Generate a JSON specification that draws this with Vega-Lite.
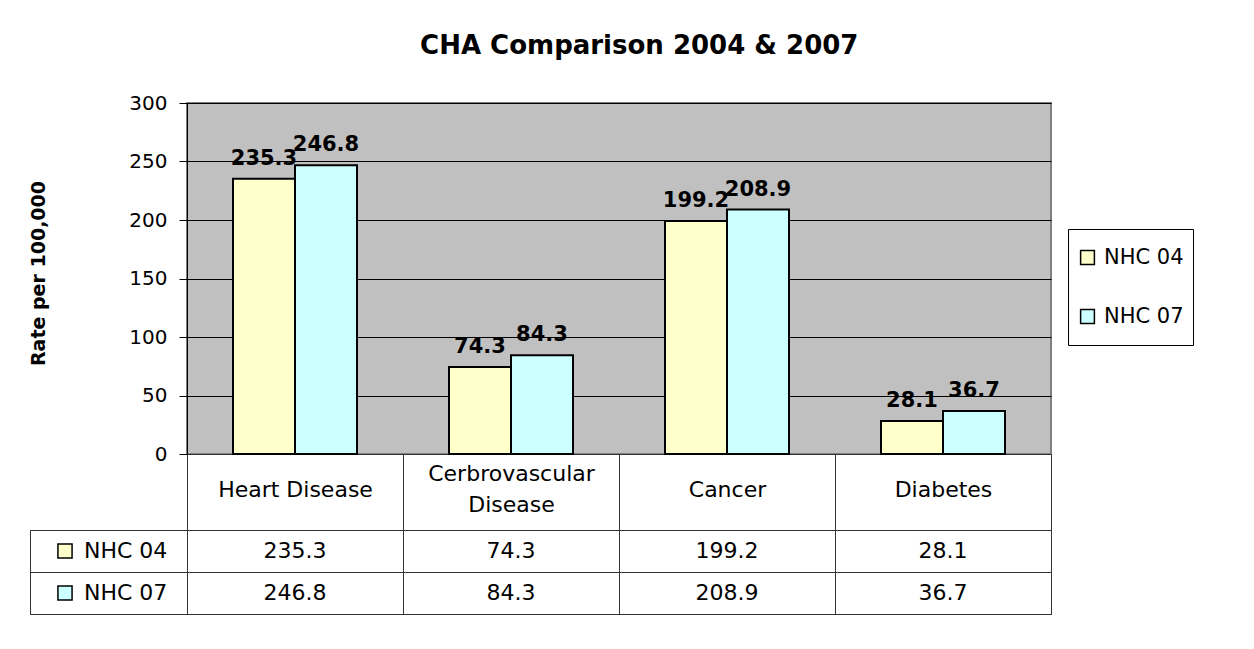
{
  "$schema": "https://vega.github.io/schema/vega-lite/v6.json",
  "background": "white",
  "padding": {"left": 27, "top": 33, "right": 5, "bottom": 5},
  "title": {"text": "CHA Comparison 2004 & 2007", "font": "DejaVu Sans", "fontSize": 26, "fontWeight": "bold", "color": "#000", "anchor": "middle", "offset": 33, "dx": 28},
  "datasets": {
    "rates": [
      {"category": "Heart Disease", "series": "NHC 04", "value": 235.3},
      {"category": "Heart Disease", "series": "NHC 07", "value": 246.8},
      {"category": "Cerbrovascular Disease", "series": "NHC 04", "value": 74.3},
      {"category": "Cerbrovascular Disease", "series": "NHC 07", "value": 84.3},
      {"category": "Cancer", "series": "NHC 04", "value": 199.2},
      {"category": "Cancer", "series": "NHC 07", "value": 208.9},
      {"category": "Diabetes", "series": "NHC 04", "value": 28.1},
      {"category": "Diabetes", "series": "NHC 07", "value": 36.7}
    ],
    "series": [
      {"series": "NHC 04"},
      {"series": "NHC 07"}
    ]
  },
  "columns": 2,
  "spacing": {"row": 76, "column": 0},
  "bounds": "flush",
  "align": "each",
  "resolve": {"scale": {"color": "independent"}, "legend": {"color": "independent"}},
  "concat": [
    {
      "width": 157,
      "height": 351,
      "view": {"stroke": null},
      "data": {"values": []},
      "mark": {"type": "point", "opacity": 0}
    },
    {
      "width": 864,
      "height": 351,
      "view": {"fill": "#C0C0C0", "stroke": "#808080", "strokeWidth": 2},
      "data": {"name": "rates"},
      "encoding": {
        "x": {
          "field": "category", "type": "nominal",
          "sort": ["Heart Disease", "Cerbrovascular Disease", "Cancer", "Diabetes"],
          "scale": {"paddingInner": 0, "paddingOuter": 0},
          "axis": {
            "title": null, "labelAngle": 0, "labelFont": "DejaVu Sans", "labelFontSize": 22, "labelColor": "#000",
            "labelBaseline": {"condition": {"test": "datum.value == 'Cerbrovascular Disease'", "value": "line-bottom"}, "value": "middle"},
            "labelLineHeight": 31, "labelPadding": -41,
            "labelExpr": "datum.value == 'Cerbrovascular Disease' ? ['Cerbrovascular', 'Disease'] : datum.label",
            "tickBand": "extent", "tickSize": 76, "tickColor": "#333", "tickWidth": 1,
            "domainColor": "#333", "domainWidth": 1
          }
        },
        "xOffset": {"field": "series", "type": "nominal", "sort": ["NHC 04", "NHC 07"], "scale": {"paddingInner": 0, "paddingOuter": 0.742}},
        "y": {
          "field": "value", "type": "quantitative",
          "scale": {"domain": [0, 300]},
          "axis": {
            "values": [0, 50, 100, 150, 200, 250, 300],
            "title": "Rate per 100,000", "titleFont": "DejaVu Sans", "titleFontSize": 19, "titleFontWeight": "bold", "titleColor": "#000",
            "titleAngle": -90, "titleX": -149, "titleY": 170, "titleAlign": "center", "titleBaseline": "middle",
            "labelFont": "DejaVu Sans", "labelFontSize": 20, "labelColor": "#000", "labelPadding": 12,
            "tickSize": 8, "tickColor": "#000", "domainColor": "#000", "domainWidth": 1,
            "grid": true, "gridColor": "#000", "gridWidth": 1
          }
        }
      },
      "layer": [
        {
          "mark": {"type": "bar", "stroke": "#000", "strokeWidth": 2},
          "encoding": {
            "color": {
              "field": "series", "type": "nominal",
              "scale": {"domain": ["NHC 04", "NHC 07"], "range": ["#FFFFCC", "#CCFFFF"]},
              "legend": {
                "orient": "none", "legendX": 881, "legendY": 126, "title": null,
                "symbolType": "square", "symbolSize": 190, "symbolStrokeColor": "#000", "symbolStrokeWidth": 1.5, "symbolOpacity": 1,
                "labelFont": "DejaVu Sans", "labelFontSize": 21, "labelColor": "#000", "labelOffset": 6,
                "strokeColor": "#000", "fillColor": "#fff", "padding": 9, "rowPadding": 20, "clipHeight": 39
              }
            }
          }
        },
        {
          "mark": {"type": "text", "baseline": "bottom", "dy": -10, "font": "DejaVu Sans", "fontSize": 21, "fontWeight": "bold", "color": "#000"},
          "encoding": {"text": {"field": "value", "type": "quantitative", "format": ".1f"}}
        }
      ]
    },
    {
      "width": 157,
      "height": 84,
      "view": {"stroke": "#333", "strokeWidth": 1},
      "data": {"name": "series"},
      "encoding": {
        "y": {
          "field": "series", "type": "nominal", "sort": ["NHC 04", "NHC 07"],
          "scale": {"type": "band", "paddingInner": 0, "paddingOuter": 0},
          "axis": {"title": null, "labels": false, "ticks": false, "domain": false, "grid": true, "tickBand": "extent", "gridColor": "#333", "gridWidth": 1}
        }
      },
      "layer": [
        {
          "mark": {"type": "point", "shape": "square", "filled": true, "size": 200, "stroke": "#000", "strokeWidth": 1.5, "opacity": 1, "xOffset": -43.5},
          "encoding": {
            "color": {"field": "series", "type": "nominal", "scale": {"domain": ["NHC 04", "NHC 07"], "range": ["#FFFFCC", "#CCFFFF"]}, "legend": null}
          }
        },
        {
          "mark": {"type": "text", "align": "left", "dx": -24.5, "font": "DejaVu Sans", "fontSize": 22, "color": "#000"},
          "encoding": {"text": {"field": "series"}}
        }
      ]
    },
    {
      "width": 864,
      "height": 84,
      "view": {"stroke": "#333", "strokeWidth": 1},
      "data": {"name": "rates"},
      "mark": {"type": "text", "font": "DejaVu Sans", "fontSize": 22, "color": "#000"},
      "encoding": {
        "x": {
          "field": "category", "type": "nominal",
          "sort": ["Heart Disease", "Cerbrovascular Disease", "Cancer", "Diabetes"],
          "scale": {"type": "band", "paddingInner": 0, "paddingOuter": 0},
          "axis": {"title": null, "labels": false, "ticks": false, "domain": false, "grid": true, "tickBand": "extent", "gridColor": "#333", "gridWidth": 1}
        },
        "y": {
          "field": "series", "type": "nominal", "sort": ["NHC 04", "NHC 07"],
          "scale": {"type": "band", "paddingInner": 0, "paddingOuter": 0},
          "axis": {"title": null, "labels": false, "ticks": false, "domain": false, "grid": true, "tickBand": "extent", "gridColor": "#333", "gridWidth": 1}
        },
        "text": {"field": "value", "type": "quantitative", "format": ".1f"}
      }
    }
  ]
}
